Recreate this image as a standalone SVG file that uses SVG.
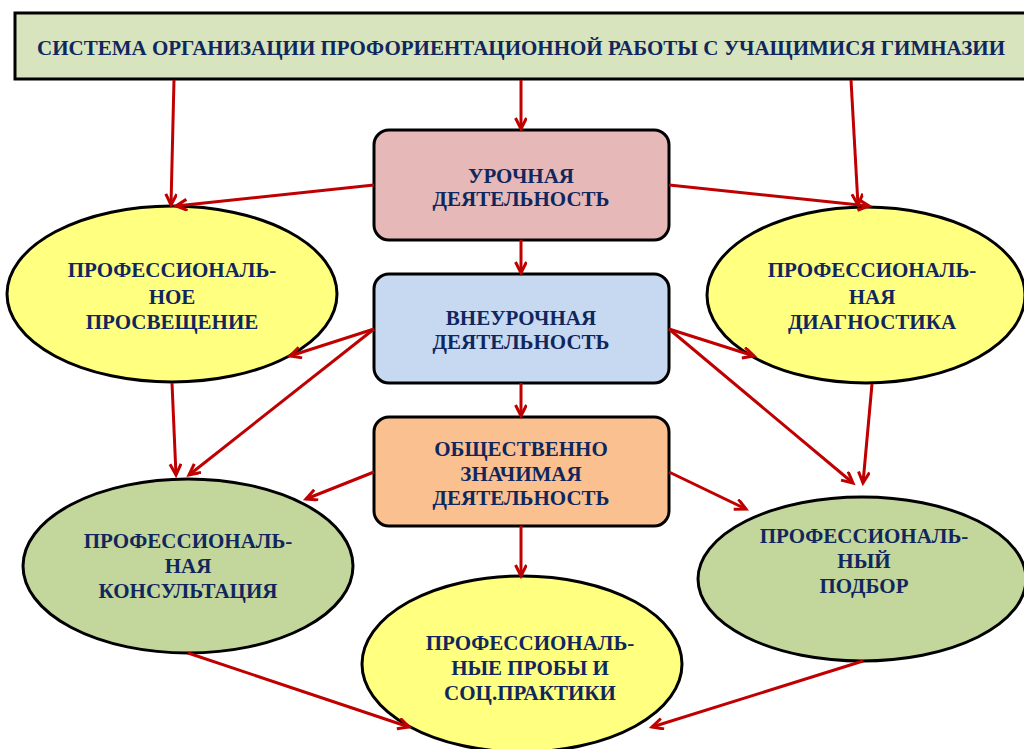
<svg xmlns="http://www.w3.org/2000/svg" width="1024" height="749" viewBox="0 0 1024 749">
<style>
.t{font-family:"Liberation Serif","Times New Roman",serif;font-weight:bold;font-size:21px;fill:#10275E;text-anchor:middle}
.n{stroke:#000;stroke-width:3}
.c{stroke:#C00000;stroke-width:3;fill:none;marker-end:url(#a)}
</style>
<defs>
<marker id="a" markerUnits="userSpaceOnUse" markerWidth="16" markerHeight="16" refX="12" refY="6" orient="auto">
<path d="M1,0.5 L12,6 L1,11.5" fill="none" stroke="#C00000" stroke-width="3"/>
</marker>
</defs>
<rect width="1024" height="749" fill="#fff"/>
<g id="banner">
<rect class="n" x="15" y="13" width="1020" height="66" fill="#D7E4BD"/>
<text class="t" x="521" y="55" font-size="23" textLength="968" lengthAdjust="spacingAndGlyphs">СИСТЕМА ОРГАНИЗАЦИИ ПРОФОРИЕНТАЦИОННОЙ РАБОТЫ С УЧАЩИМИСЯ ГИМНАЗИИ</text>
</g>
<g id="urochnaya">
<rect class="n" x="374" y="130" width="295" height="110" rx="15" fill="#E6B9B8"/>
<text class="t" x="521" y="183">УРОЧНАЯ</text>
<text class="t" x="521" y="206">ДЕЯТЕЛЬНОСТЬ</text>
</g>
<g id="vneurochnaya">
<rect class="n" x="374" y="274" width="295" height="109" rx="15" fill="#C6D9F1"/>
<text class="t" x="521" y="325">ВНЕУРОЧНАЯ</text>
<text class="t" x="521" y="349">ДЕЯТЕЛЬНОСТЬ</text>
</g>
<g id="obshchestvenno">
<rect class="n" x="374" y="417" width="295" height="109" rx="15" fill="#FAC090"/>
<text class="t" x="521" y="456">ОБЩЕСТВЕННО</text>
<text class="t" x="521" y="481">ЗНАЧИМАЯ</text>
<text class="t" x="521" y="505">ДЕЯТЕЛЬНОСТЬ</text>
</g>
<g id="prosveshchenie">
<ellipse class="n" cx="172" cy="294" rx="165" ry="88" fill="#FFFF80"/>
<text class="t" x="172" y="277">ПРОФЕССИОНАЛЬ-</text>
<text class="t" x="172" y="304">НОЕ</text>
<text class="t" x="172" y="329">ПРОСВЕЩЕНИЕ</text>
</g>
<g id="diagnostika">
<ellipse class="n" cx="866" cy="295" rx="159" ry="88" fill="#FFFF80"/>
<text class="t" x="872" y="277">ПРОФЕССИОНАЛЬ-</text>
<text class="t" x="872" y="304">НАЯ</text>
<text class="t" x="872" y="329">ДИАГНОСТИКА</text>
</g>
<g id="konsultatsiya">
<ellipse class="n" cx="188" cy="566" rx="165" ry="87" fill="#C3D69B"/>
<text class="t" x="188" y="548">ПРОФЕССИОНАЛЬ-</text>
<text class="t" x="188" y="573">НАЯ</text>
<text class="t" x="188" y="598">КОНСУЛЬТАЦИЯ</text>
</g>
<g id="podbor">
<ellipse class="n" cx="862" cy="579" rx="164" ry="82" fill="#C3D69B"/>
<text class="t" x="864" y="543">ПРОФЕССИОНАЛЬ-</text>
<text class="t" x="864" y="568">НЫЙ</text>
<text class="t" x="864" y="593">ПОДБОР</text>
</g>
<g id="proby">
<ellipse class="n" cx="522" cy="664" rx="160" ry="88" fill="#FFFF80"/>
<text class="t" x="530" y="650">ПРОФЕССИОНАЛЬ-</text>
<text class="t" x="530" y="675">НЫЕ ПРОБЫ И</text>
<text class="t" x="530" y="700">СОЦ.ПРАКТИКИ</text>
</g>
<g id="connectors">
<line class="c" x1="174" y1="80" x2="171" y2="205"/>
<line class="c" x1="521" y1="80" x2="521" y2="129"/>
<line class="c" x1="851" y1="80" x2="858" y2="205"/>
<line class="c" x1="374" y1="185" x2="176" y2="206"/>
<line class="c" x1="669" y1="185" x2="869" y2="206"/>
<line class="c" x1="521" y1="240" x2="521" y2="273"/>
<line class="c" x1="374" y1="329" x2="290" y2="356"/>
<line class="c" x1="374" y1="329" x2="189" y2="475"/>
<line class="c" x1="669" y1="329" x2="754" y2="356"/>
<line class="c" x1="669" y1="329" x2="853" y2="483"/>
<line class="c" x1="521" y1="383" x2="521" y2="416"/>
<line class="c" x1="172" y1="383" x2="176" y2="475"/>
<line class="c" x1="872" y1="384" x2="863" y2="483"/>
<line class="c" x1="374" y1="472" x2="306" y2="499"/>
<line class="c" x1="669" y1="472" x2="746" y2="509"/>
<line class="c" x1="521" y1="526" x2="521" y2="576"/>
<line class="c" x1="188" y1="653" x2="409" y2="727"/>
<line class="c" x1="863" y1="661" x2="652" y2="727"/>
</g>
</svg>
